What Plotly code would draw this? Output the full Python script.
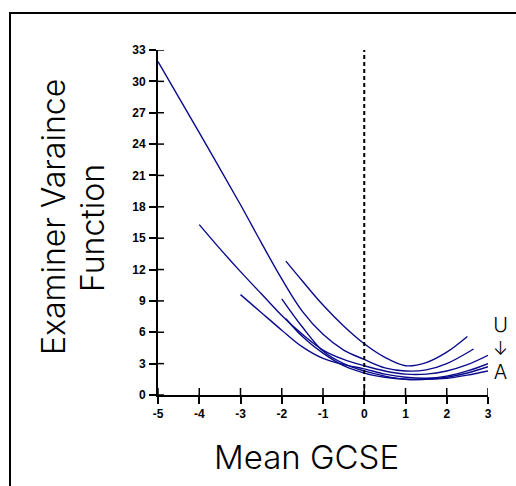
import plotly.graph_objects as go

# ---- data ----
x_ticks = [-5, -4, -3, -2, -1, 0, 1, 2, 3]
y_ticks = [0, 3, 6, 9, 12, 15, 18, 21, 24, 27, 30, 33]

grade_U_x = [-1.9, -1.5, -1.0, -0.5, 0.0, 0.5, 1.0, 1.5, 2.0, 2.5]
grade_U_y = [12.8, 10.9, 8.6, 6.6, 4.9, 3.6, 2.8, 3.1, 4.1, 5.6]

grade_E_x = [-5, -4, -3, -2.5, -2, -1.5, -1, -0.5, 0, 0.5, 1, 1.5, 2, 2.65]
grade_E_y = [31.9, 25.1, 18.2, 14.6, 11.1, 8.0, 5.8, 4.3, 3.4, 2.6, 2.3, 2.4, 3.0, 4.4]

grade_D_x = [-4, -3.5, -3, -2.5, -2, -1.5, -1, -0.5, 0, 0.5, 1, 1.5, 2, 2.5, 3]
grade_D_y = [16.3, 14.0, 11.8, 9.7, 7.6, 5.8, 4.3, 3.4, 2.8, 2.3, 2.0, 2.0, 2.3, 2.9, 3.8]

grade_C_x = [-3, -2.5, -2, -1.5, -1, -0.5, 0, 0.5, 1, 1.5, 2, 2.5, 3]
grade_C_y = [9.6, 7.9, 6.2, 4.6, 3.5, 2.9, 2.5, 2.0, 1.7, 1.6, 1.8, 2.3, 3.0]

grade_B_x = [-2, -1.5, -1, -0.5, 0, 0.5, 1, 1.5, 2, 2.5, 3]
grade_B_y = [9.2, 6.5, 4.2, 3.0, 2.3, 1.8, 1.5, 1.5, 1.7, 2.1, 2.7]

grade_A_x = [-1.9, -1.5, -1, -0.5, 0, 0.5, 1, 1.5, 2, 2.5, 3]
grade_A_y = [7.3, 5.6, 4.0, 2.8, 2.1, 1.7, 1.5, 1.5, 1.6, 1.9, 2.3]

series = [
    ("U", grade_U_x, grade_U_y),
    ("E", grade_E_x, grade_E_y),
    ("D", grade_D_x, grade_D_y),
    ("C", grade_C_x, grade_C_y),
    ("B", grade_B_x, grade_B_y),
    ("A", grade_A_x, grade_A_y),
]

LINE_COLOR = "#0a0a8c"
FONT = "Liberation Sans, Arial, sans-serif"
TITLE_FONT = "Inter, Liberation Sans, sans-serif"

W, H = 516, 486
L, R, T, B = 158, 28, 50, 91
PW, PH = W - L - R, H - T - B


def px_x(px):
    return (px - L) / PW


def px_y(py):
    return (H - B - py) / PH


fig = go.Figure()
for name, xs, ys in series:
    fig.add_trace(go.Scatter(
        x=xs, y=ys, mode="lines", name=name,
        line=dict(color=LINE_COLOR, width=1.4, shape="spline", smoothing=1.0),
        showlegend=False, hoverinfo="skip",
    ))

shapes = []
# vertical dashed reference line at x = 0
shapes.append(dict(type="line", xref="x", yref="y", x0=0, x1=0,
                   y0=y_ticks[0], y1=y_ticks[-1],
                   line=dict(color="black", width=2, dash="4px,3px")))
# inner halves of the crossing tick marks
for t in x_ticks:
    shapes.append(dict(type="line", xref="x", yref="paper", x0=t, x1=t,
                       y0=0, y1=7 / PH, line=dict(color="black", width=1.5)))
for t in y_ticks:
    shapes.append(dict(type="line", xref="paper", yref="y", x0=0, x1=6 / PW,
                       y0=t, y1=t, line=dict(color="black", width=1.5)))
# outer frame of the picture (top and left edges only visible)
shapes.append(dict(type="line", xref="paper", yref="paper",
                   x0=px_x(10), x1=px_x(W), y0=px_y(13), y1=px_y(13),
                   line=dict(color="black", width=2)))
shapes.append(dict(type="line", xref="paper", yref="paper",
                   x0=px_x(10), x1=px_x(10), y0=px_y(12), y1=px_y(H),
                   line=dict(color="black", width=2)))

annotations = [
    dict(text="Mean GCSE", x=px_x(306), y=px_y(457), xref="paper", yref="paper",
         showarrow=False, font=dict(family=TITLE_FONT, size=33, color="black", weight=300),
         xanchor="center", yanchor="middle"),
    dict(text="Examiner Varaince", x=px_x(53), y=px_y(217), xref="paper", yref="paper",
         showarrow=False, textangle=-90,
         font=dict(family=TITLE_FONT, size=32, color="black", weight=300),
         xanchor="center", yanchor="middle"),
    dict(text="Function", x=px_x(92), y=px_y(228), xref="paper", yref="paper",
         showarrow=False, textangle=-90,
         font=dict(family=TITLE_FONT, size=32, color="black", weight=300),
         xanchor="center", yanchor="middle"),
    dict(text="<span style='font-size:20px'>U</span><br>"
              "<span style='font-size:18px'>↓</span><br>"
              "<span style='font-size:20px'>A</span>",
         x=px_x(500), y=px_y(348), xref="paper", yref="paper",
         showarrow=False, align="center",
         font=dict(family=TITLE_FONT, size=18, color="#000000", weight=300),
         xanchor="center", yanchor="middle"),
]

fig.update_layout(
    width=W, height=H,
    margin=dict(l=L, r=R, t=T, b=B, pad=0),
    paper_bgcolor="white", plot_bgcolor="white",
    shapes=shapes, annotations=annotations,
    xaxis=dict(range=[x_ticks[0], x_ticks[-1]], tickvals=x_ticks,
               ticktext=[str(v) for v in x_ticks],
               showgrid=False, zeroline=False, showline=True,
               linecolor="black", linewidth=2, ticks="outside", ticklen=7,
               tickwidth=1.5, tickcolor="black",
               tickfont=dict(family=FONT, size=12, color="black", weight="bold")),
    yaxis=dict(range=[y_ticks[0], y_ticks[-1]], tickvals=y_ticks,
               ticktext=[str(v) for v in y_ticks],
               showgrid=False, zeroline=False, showline=True,
               linecolor="black", linewidth=2, ticks="outside", ticklen=7,
               tickwidth=1.5, tickcolor="black", ticklabelstandoff=1,
               tickfont=dict(family=FONT, size=12, color="black", weight="bold")),
)

fig.write_html("out.html", config={"displayModeBar": False})
